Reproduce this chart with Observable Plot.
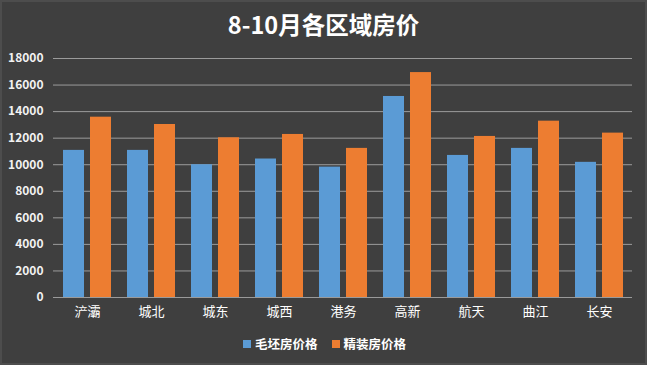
<!DOCTYPE html>
<html>
<head>
<meta charset="utf-8">
<script src="https://cdn.jsdelivr.net/npm/d3@7"></script>
<script src="https://cdn.jsdelivr.net/npm/@observablehq/plot@0.6"></script>
<style>
  html, body { margin: 0; padding: 0; background: #3f3f3f; }
  body { width: 647px; height: 365px; overflow: hidden; position: relative; font-family: "Noto Sans CJK SC", "Noto Sans", sans-serif; }
  body::after { content: ""; position: absolute; left: 0; top: 0; width: 647px; height: 365px; box-sizing: border-box; border: 2px solid #4d4d4d; pointer-events: none; }
  #title { height: 45px; line-height: 48px; text-align: center; color: #ffffff; font-size: 23.5px; font-weight: bold; }
  #legend { display: flex; justify-content: center; align-items: center; gap: 14px; color: #ffffff; font-size: 12.5px; font-weight: bold; margin-top: 9px; padding-left: 2px; }
  .item { display: flex; align-items: center; gap: 4px; }
  .sw { width: 8px; height: 8px; display: inline-block; }
  svg { display: block; }
</style>
</head>
<body>
<div id="title">8-10月各区域房价</div>
<div id="chart"></div>
<div id="legend"></div>
<script>
const districts = ["浐灞", "城北", "城东", "城西", "港务", "高新", "航天", "曲江", "长安"];
const seriesNames = ["毛坯房价格", "精装房价格"];
const roughPrice = [11080, 11080, 10000, 10430, 9820, 15140, 10700, 11230, 10180];
const finishedPrice = [13580, 13030, 12030, 12280, 11230, 16940, 12130, 13280, 12380];
const yTicks = [0, 2000, 4000, 6000, 8000, 10000, 12000, 14000, 16000, 18000];
const colors = ["#5b9bd5", "#ed7d31"];

const chart = Plot.plot({
  width: 647,
  height: 280,
  marginTop: 13,
  marginBottom: 28,
  marginLeft: 53,
  marginRight: 15,
  style: {background: "transparent", color: "#ffffff", fontFamily: "'Noto Sans CJK SC', sans-serif"},
  x: {domain: districts, paddingInner: 0.25, paddingOuter: 0.125, label: null, axis: null},
  y: {domain: [0, 18000], label: null, axis: null},
  marks: [
    Plot.ruleY(yTicks.filter(t => t > 0), {stroke: "#acacac", strokeWidth: 1, strokeOpacity: 0.85}),
    Plot.barY(districts, {x: d => d, y: (d, i) => roughPrice[i], fill: colors[0], insetRight: 27}),
    Plot.barY(districts, {x: d => d, y: (d, i) => finishedPrice[i], fill: colors[1], insetLeft: 27}),
    Plot.ruleY([0], {stroke: "#9a9a9a", strokeWidth: 1}),
    Plot.axisY({ticks: yTicks, tickSize: 0, tickPadding: 10, tickFormat: d => String(d), fontSize: 12, fontWeight: "bold", fill: "#f2f2f2"}),
    Plot.axisX({tickSize: 0, tickPadding: 9, fontSize: 13, fill: "#ffffff", label: null})
  ]
});
document.getElementById("chart").appendChild(chart);

const legend = document.getElementById("legend");
seriesNames.forEach((s, i) => {
  const it = document.createElement("span");
  it.className = "item";
  const sw = document.createElement("span");
  sw.className = "sw";
  sw.style.background = colors[i];
  it.appendChild(sw);
  it.appendChild(document.createTextNode(s));
  legend.appendChild(it);
});
</script>
</body>
</html>
